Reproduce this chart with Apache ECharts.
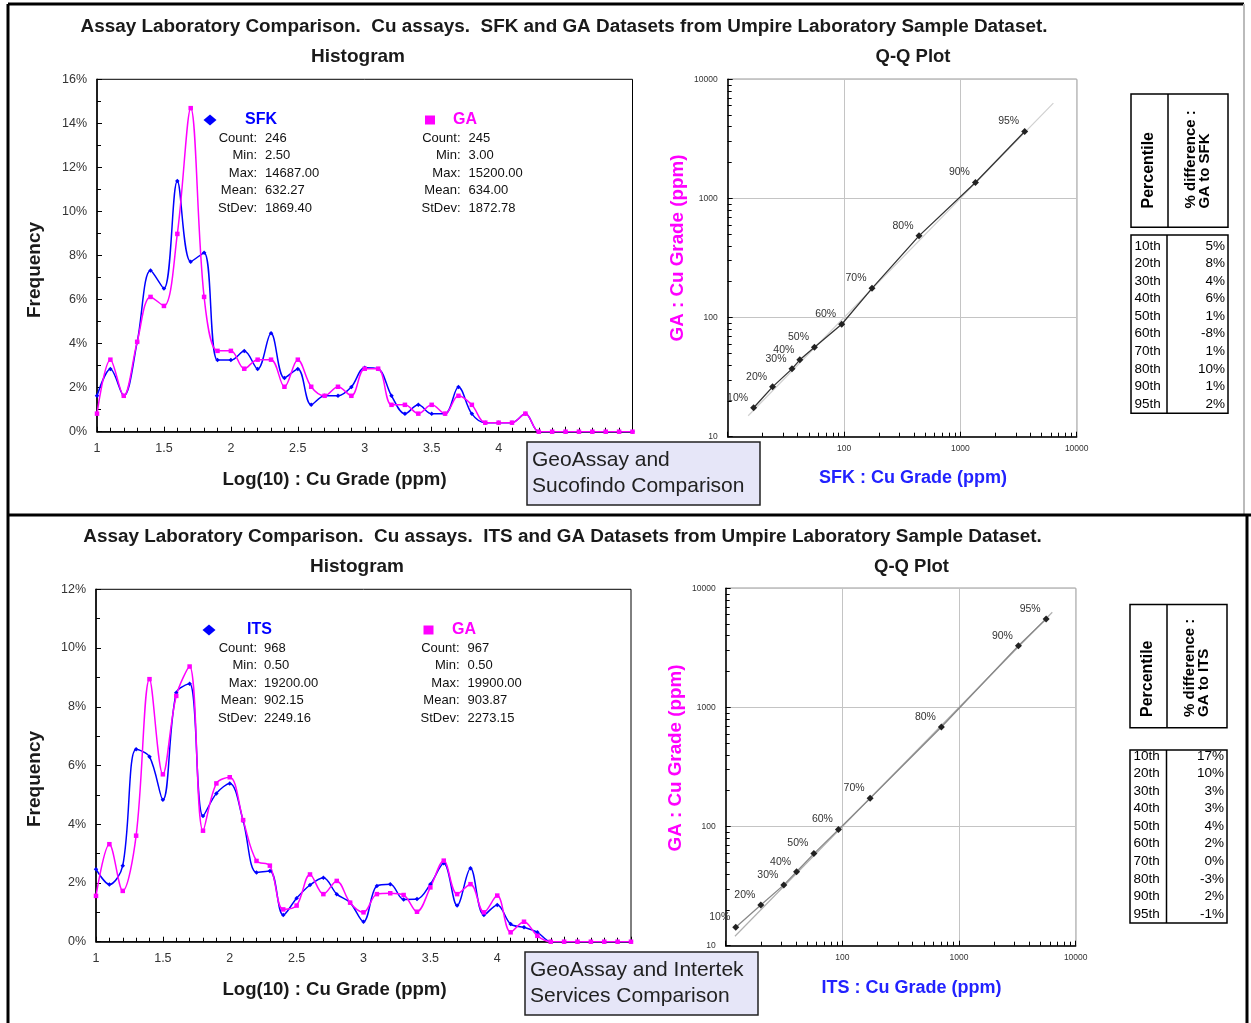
<!DOCTYPE html>
<html><head><meta charset="utf-8">
<script src="https://cdn.jsdelivr.net/npm/echarts@6/dist/echarts.min.js"></script>
<style>html,body{margin:0;padding:0;background:#fff}#c{width:1251px;height:1023px}</style>
</head><body><div id="c"></div>
<script>
// ---------------- DATA ----------------
const bins = [1.0,1.1,1.2,1.3,1.4,1.5,1.6,1.7,1.8,1.9,2.0,2.1,2.2,2.3,2.4,2.5,2.6,2.7,2.8,2.9,3.0,3.1,3.2,3.3,3.4,3.5,3.6,3.7,3.8,3.9,4.0,4.1,4.2,4.3,4.4,4.5,4.6,4.7,4.8,4.9,5.0];
const sfkFreq = [1.63,2.85,1.63,4.07,7.32,6.50,11.38,7.72,8.13,3.25,3.25,3.66,2.85,4.47,2.44,2.85,1.22,1.63,1.63,2.03,2.90,2.85,1.63,0.81,1.22,0.81,0.81,2.03,0.81,0.41,0.41,0.41,0.81,0,0,0,0,0,0,0,0];
const gaFreqTop = [0.82,3.27,1.63,4.08,6.12,5.71,8.98,14.69,6.12,3.67,3.67,2.86,3.27,3.27,2.04,3.27,2.04,1.63,2.04,1.63,2.86,2.86,1.22,1.22,0.82,1.22,0.82,1.63,1.22,0.41,0.41,0.41,0.82,0,0,0,0,0,0,0,0];
const itsFreq = [2.47,1.95,2.59,6.55,6.30,4.83,8.48,8.78,4.28,5.05,5.39,4.12,2.36,2.41,0.91,1.48,1.93,2.18,1.62,1.33,0.68,1.90,1.96,1.44,1.45,1.96,2.67,1.23,2.50,0.91,1.25,0.60,0.49,0.32,0,0,0,0,0,0,0];
const gaFreqBottom = [1.56,3.32,1.73,3.61,8.94,5.70,8.37,9.37,3.78,5.39,5.60,4.14,2.75,2.59,1.10,1.23,2.29,1.62,2.07,1.33,1.00,1.62,1.65,1.59,1.02,1.85,2.76,1.62,1.96,1.00,1.57,0.32,0.68,0.20,0,0,0,0,0,0,0];

const qqLabels = ['10%','20%','30%','40%','50%','60%','70%','80%','90%','95%'];
const qqSfk = [16.7,24.3,35.7,41.7,55.7,95.5,174,441,1348,3573];
const qqGaTop = [17.5,26.2,37.1,44.2,56.3,87.9,176,485,1361,3644];
const qqIts = [12.2,20.0,31.5,40.5,57,92.5,173,706,3230,5580];
const qqGaBottom = [14.3,22.0,32.4,41.7,59.3,94.3,173,685,3290,5520];
const oneToOneTop = [15,6300];
const oneToOneBottom = [12,6300];

const pctRows = ['10th','20th','30th','40th','50th','60th','70th','80th','90th','95th'];
const diffTop = ['5%','8%','4%','6%','1%','-8%','1%','10%','1%','2%'];
const diffBottom = ['17%','10%','3%','3%','4%','2%','0%','-3%','2%','-1%'];

const statLabels = ['Count:','Min:','Max:','Mean:','StDev:'];
const sfkStats = ['246','2.50','14687.00','632.27','1869.40'];
const gaTopStats = ['245','3.00','15200.00','634.00','1872.78'];
const itsStats = ['968','0.50','19200.00','902.15','2249.16'];
const gaBottomStats = ['967','0.50','19900.00','903.87','2273.15'];

// ---------------- STYLE ----------------
const SANS = '"Liberation Sans", Arial, sans-serif';
const BLUE = '#0000ff', MAG = '#ff00ff';
const G = [];
function T(x, y, text, font, fill, align, valign, rot) {
  const el = {type:'text', x:x, y:y, z:50, style:{text:text, font:font, fill:fill||'#111',
    textAlign:align||'center', textVerticalAlign:valign||'middle'}};
  if (rot) el.rotation = rot;
  G.push(el); return el;
}
function R(x, y, w, h, fill, stroke, lw, z) {
  G.push({type:'rect', z:z||40, shape:{x:x,y:y,width:w,height:h}, style:{fill:fill||'none', stroke:stroke||'#000', lineWidth:lw||1}});
}
function L(x1, y1, x2, y2, stroke, lw) {
  G.push({type:'line', z:45, shape:{x1:x1,y1:y1,x2:x2,y2:y2}, style:{stroke:stroke||'#000', lineWidth:lw||1}});
}

// panel borders
L(8, 4, 1244, 4, '#000', 3);
L(8, 4, 8, 515, '#000', 3);
L(1244, 4, 1244, 515, '#bbb', 2);
L(8, 515, 1251, 515, '#000', 3);
L(8, 515, 8, 1023, '#000', 3);
L(1247, 515, 1247, 1023, '#000', 3);

function panel(off, lab, labStats, gaStats, diffs, boxLines, boxOffX) {
  const s = off ? 1 : 0;
  T(564 - 1.5 * s, 27 + off, 'Assay Laboratory Comparison.  Cu assays.  ' + lab + ' and GA Datasets from Umpire Laboratory Sample Dataset.', 'bold 18.9px ' + SANS, '#1a1a1a');
  T(358 - s, 57 + off, 'Histogram', 'bold 19px ' + SANS, '#1a1a1a');
  T(913 - 1.5 * s, 57 + off, 'Q-Q Plot', 'bold 18.5px ' + SANS, '#1a1a1a');
  T(35, 270 + off - s, 'Frequency', 'bold 19px ' + SANS, '#1a1a1a', 'center', 'middle', Math.PI / 2);
  T(334.5, 480 + off, 'Log(10) : Cu Grade (ppm)', 'bold 18.6px ' + SANS, '#1a1a1a');
  T(678 - 2 * s, 248 + off, 'GA : Cu Grade (ppm)', 'bold 18.8px ' + SANS, MAG, 'center', 'middle', Math.PI / 2);
  T(913 - 1.5 * s, 478 + off, lab + ' : Cu Grade (ppm)', 'bold 18px ' + SANS, '#2222ff');
  // legend blocks
  const ly = 120 + off;
  G.push({type:'polygon', z:50, shape:{points:[[210 - s, ly-5.5],[216.5 - s, ly],[210 - s, ly+5.5],[203.5 - s, ly]]}, style:{fill:BLUE}});
  T(245 + 2 * s, ly, lab, 'bold 16px ' + SANS, BLUE, 'left');
  G.push({type:'rect', z:50, shape:{x:425 - 1.5 * s, y:ly-4.5, width:10, height:9}, style:{fill:MAG}});
  T(453 - s, ly, 'GA', 'bold 16px ' + SANS, MAG, 'left');
  for (let i = 0; i < statLabels.length; i++) {
    const y = 138.3 + off + i * 17.5;
    T(257, y, statLabels[i], '13px ' + SANS, '#111', 'right');
    T(265 - s, y, labStats[i], '13px ' + SANS, '#111', 'left');
    T(460.5 - s, y, statLabels[i], '13px ' + SANS, '#111', 'right');
    T(468.5 - s, y, gaStats[i], '13px ' + SANS, '#111', 'left');
  }
  // comparison box
  R(527 + boxOffX, 442 + off, 233, 63, '#e6e6f8', '#222', 1.5, 60);
  T(532 + boxOffX, 460 + off, boxLines[0], '21px ' + SANS, '#222', 'left').z = 61;
  T(532 + boxOffX, 486 + off, boxLines[1], '21px ' + SANS, '#222', 'left').z = 61;
  // table header
  const hTop = 94 + off + 0.5 * s;
  const hBot = off ? 727.7 : 227.3;
  R(1131 - s, hTop, 97, hBot - hTop, 'none', '#000', 1.5);
  L(1168 - s, hTop, 1168 - s, hBot, '#000', 1.5);
  const ab = off ? 717 : 208.5;
  T(1149 - s, ab, 'Percentile', 'bold 16px ' + SANS, '#000', 'left', 'middle', Math.PI / 2);
  T(1191 - s, ab, '% difference :', 'bold 15px ' + SANS, '#000', 'left', 'middle', Math.PI / 2);
  T(1204.5 - s, ab, 'GA to ' + lab, 'bold 15px ' + SANS, '#000', 'left', 'middle', Math.PI / 2);
  // table body
  const tTop = off ? 750 : 235;
  const tBot = off ? 923 : 413.3;
  R(1131 - s, tTop, 97, tBot - tTop, 'none', '#000', 1.5);
  L(1167 - 0.5 * s, tTop, 1167 - 0.5 * s, tBot, '#000', 1.5);
  for (let i = 0; i < pctRows.length; i++) {
    const y = (off ? 756 : 246) + i * 17.55;
    T(1134.5 - s, y, pctRows[i], '13.5px ' + SANS, '#000', 'left');
    T(1225 - s, y, diffs[i], '13.5px ' + SANS, '#000', 'right');
  }
}
panel(0, 'SFK', sfkStats, gaTopStats, diffTop, ['GeoAssay and', 'Sucofindo Comparison'], 0);
panel(510, 'ITS', itsStats, gaBottomStats, diffBottom, ['GeoAssay and Intertek', 'Services Comparison'], -2);

// ---------------- AXES ----------------
function histX(grid) {
  return {type:'value', gridIndex:grid, min:1, max:5, interval:0.5,
    axisLine:{show:true, onZero:false, lineStyle:{color:'#000', width:1.5}},
    axisTick:{show:true, inside:true, length:5, lineStyle:{color:'#000'}},
    minorTick:{show:true, splitNumber:5, length:4, lineStyle:{color:'#000'}},
    splitLine:{show:false},
    axisLabel:{margin:10, fontSize:12.5, color:'#333', fontFamily:SANS}};
}
function histY(grid, max) {
  return {type:'value', gridIndex:grid, min:0, max:max, interval:2,
    axisLine:{show:true, lineStyle:{color:'#000', width:1.5}},
    axisTick:{show:true, inside:true, length:5, lineStyle:{color:'#000'}},
    minorTick:{show:true, splitNumber:2, length:4, lineStyle:{color:'#000'}},
    splitLine:{show:false},
    axisLabel:{margin:10, fontSize:12.5, color:'#333', fontFamily:SANS, formatter:'{value}%'}};
}
function qqAxis(grid, isY) {
  return {type:'log', logBase:10, gridIndex:grid, min:10, max:10000,
    axisLine:{show:true, onZero:false, lineStyle:{color:'#000', width:1.5}},
    axisTick:{show:true, inside:true, length:5, lineStyle:{color:'#000'}},
    minorTick:{show:true, splitNumber:9, length:4, lineStyle:{color:'#000'}},
    splitLine:{show:true, lineStyle:{color:'#c4c4c4', width:1}},
    minorSplitLine:{show:false},
    axisLabel:{margin:isY ? 10 : 7, fontSize:8.5, color:'#333', fontFamily:SANS, formatter:v => String(Math.round(v))}};
}

function histSeries(xi, data, color, symbol) {
  return {type:'line', xAxisIndex:xi, yAxisIndex:xi, smooth:0.35, symbol:symbol, symbolSize:4.5,
    showSymbol:true, data:bins.map((b, i) => [b, data[i]]),
    itemStyle:{color:color}, lineStyle:{color:color, width:1.5}, z:3};
}
function qqSeries(xi, xs, ys, lineColor) {
  return {type:'line', xAxisIndex:xi, yAxisIndex:xi, symbol:'diamond', symbolSize:7,
    data:xs.map((v, i) => [v, ys[i]]),
    itemStyle:{color:'#222'}, lineStyle:{color:lineColor, width:1.3}, z:4,
    label:{show:true, position:'left', distance:3, offset:[1, -10], fontSize:10.5, color:'#333', fontFamily:SANS,
      formatter:p => qqLabels[p.dataIndex]}};
}
function oneToOne(xi, ends, color) {
  return {type:'line', xAxisIndex:xi, yAxisIndex:xi, symbol:'none', silent:true,
    data:ends.map(v => [v, v]), lineStyle:{color:color, width:1.2}, z:2};
}

const option = {
  animation:false,
  backgroundColor:'#fff',
  grid:[
    {left:97, top:79.3, width:535.5, height:352.4, show:true, borderColor:'#000', borderWidth:1},
    {left:727.7, top:79.3, width:349, height:357.4, show:true, borderColor:'#000', borderWidth:1},
    {left:96, top:589.3, width:535, height:352.4, show:true, borderColor:'#000', borderWidth:1},
    {left:725.7, top:588.3, width:350, height:357.4, show:true, borderColor:'#000', borderWidth:1}
  ],
  xAxis:[histX(0), qqAxis(1, false), histX(2), qqAxis(3, false)],
  yAxis:[histY(0, 16), qqAxis(1, true), histY(2, 12), qqAxis(3, true)],
  series:[
    histSeries(0, sfkFreq, BLUE, 'diamond'),
    histSeries(0, gaFreqTop, MAG, 'rect'),
    oneToOne(1, oneToOneTop, '#d0d0d0'),
    qqSeries(1, qqSfk, qqGaTop, '#333'),
    histSeries(2, itsFreq, BLUE, 'diamond'),
    histSeries(2, gaFreqBottom, MAG, 'rect'),
    oneToOne(3, oneToOneBottom, '#b0b0b0'),
    qqSeries(3, qqIts, qqGaBottom, '#888')
  ],
  graphic:{elements:G}
};
const chart = echarts.init(document.getElementById('c'), null, {width:1251, height:1023});
chart.setOption(option);
</script></body></html>
